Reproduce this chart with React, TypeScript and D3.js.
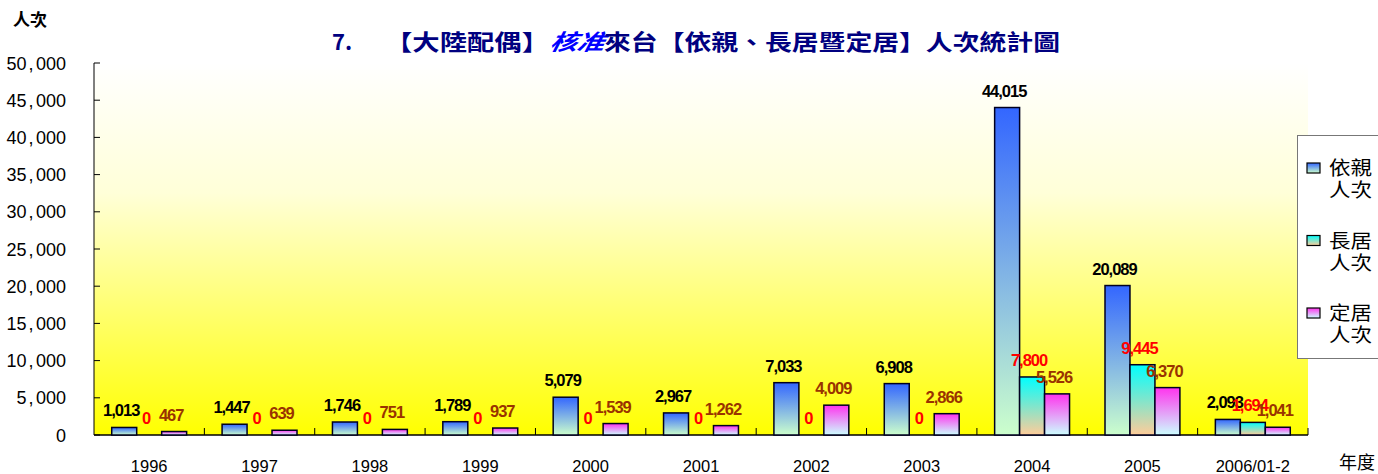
import React from "react";
import * as d3 from "d3";

const categories = ["1996", "1997", "1998", "1999", "2000", "2001", "2002", "2003", "2004", "2005", "2006/01-2"];
const seriesNames = ["依親人次", "長居人次", "定居人次"];
const yiqin = [1013, 1447, 1746, 1789, 5079, 2967, 7033, 6908, 44015, 20089, 2093];
const changju = [0, 0, 0, 0, 0, 0, 0, 0, 7800, 9445, 1694];
const dingju = [467, 639, 751, 937, 1539, 1262, 4009, 2866, 5526, 6370, 1041];
const yTicks = [0, 5000, 10000, 15000, 20000, 25000, 30000, 35000, 40000, 45000, 50000];
const legendLines = [["依親", "人次"], ["長居", "人次"], ["定居", "人次"]];

const seriesValues = [yiqin, changju, dingju];
const gradStops = [
  ["#3366ff", "#ccffcc"],
  ["#00ffff", "#ffcc99"],
  ["#ff33ee", "#ccffff"],
];
const labelColors = ["#000000", "#ff0000", "#993300"];

export default function App() {
  const W = 1378, H = 474;
  const left = 94, right = 1308, top = 63, bottom = 435;
  const x0 = d3.scaleBand<string>().domain(categories).range([left, right]).paddingInner(0).paddingOuter(0);
  const x1 = d3.scaleBand<string>().domain(seriesNames).range([0, x0.bandwidth()]).paddingInner(0).paddingOuter(0.71);
  const y = d3.scaleLinear().domain([0, 50000]).range([bottom, top]);
  const fmt = d3.format(",");
  const sans = "'Liberation Sans', Arial, sans-serif";
  const cjk = "'Noto Sans CJK TC', 'Noto Sans CJK SC', sans-serif";

  return (
    <svg width={W} height={H} style={{ position: "absolute", left: 0, top: 0, background: "#fff" }}>
      <defs>
        <linearGradient id="bg" x1="0" y1="0" x2="0" y2="1">
          <stop offset="0" stopColor="#ffffff" />
          <stop offset="0.35" stopColor="#ffffd8" />
          <stop offset="1" stopColor="#ffff00" />
        </linearGradient>
        {gradStops.map((g, i) => (
          <linearGradient key={i} id={`g${i}`} x1="0" y1="0" x2="0" y2="1">
            <stop offset="0" stopColor={g[0]} />
            <stop offset="1" stopColor={g[1]} />
          </linearGradient>
        ))}
      </defs>
      <rect x={left} y={top} width={right - left} height={bottom - top} fill="url(#bg)" />

      {/* title */}
      <text x={332} y={50} fontFamily={cjk} fontWeight="bold" fontSize={22} fill="#000080">7.</text>
      <text x={385} y={50} fontFamily={cjk} fontWeight="bold" fontSize={22} fill="#000080" textLength={164} lengthAdjust="spacingAndGlyphs">【大陸配偶】</text>
      <text x={549} y={50} fontFamily={cjk} fontWeight="bold" fontStyle="italic" fontSize={22} fill="#0000ff" textLength={54} lengthAdjust="spacingAndGlyphs" transform="skewX(-12)" style={{ transformOrigin: "549px 50px" }}>核准</text>
      <text x={604} y={50} fontFamily={cjk} fontWeight="bold" fontSize={22} fill="#000080" textLength={456} lengthAdjust="spacingAndGlyphs">來台【依親、長居暨定居】人次統計圖</text>

      {/* y unit */}
      <text x={13} y={26} fontFamily={cjk} fontWeight="bold" fontSize={17} fill="#000">人次</text>

      {/* y axis */}
      <line x1={left} x2={left} y1={top} y2={bottom} stroke="#000" strokeWidth={1} />
      {yTicks.map((t) => {
        const s = fmt(t);
        const parts = s.split(",");
        return (
          <g key={t}>
            <line x1={left} x2={left + 6} y1={y(t)} y2={y(t)} stroke="#000" />
            <text x={66} y={y(t) + 6.5} textAnchor="end" fontFamily={sans} fontSize={18} fill="#000">
              {parts.length > 1 ? (
                <>
                  <tspan>{parts[0]}</tspan>
                  <tspan dx={2}>,</tspan>
                  <tspan dx={2.5}>{parts[1]}</tspan>
                </>
              ) : s}
            </text>
          </g>
        );
      })}

      {/* x axis */}
      <line x1={left} x2={right} y1={bottom} y2={bottom} stroke="#000" strokeWidth={1.5} />
      {categories.map((c) => (
        <line key={c} x1={x0(c)! + x0.bandwidth()} x2={x0(c)! + x0.bandwidth()} y1={bottom} y2={bottom - 7} stroke="#000" />
      ))}
      {categories.map((c) => (
        <text key={c} x={x0(c)! + x0.bandwidth() / 2} y={472} textAnchor="middle" fontFamily={sans} fontSize={16.5} fill="#000">{c}</text>
      ))}
      <text x={1339} y={469} fontFamily={cjk} fontSize={18} fill="#000">年度</text>

      {/* bars */}
      {seriesValues.map((vals, si) => (
        <g key={si}>
          {vals.map((v, ci) => {
            const cx = x0(categories[ci])! + x1(seriesNames[si])!;
            const h = bottom - y(v);
            return v > 0 ? (
              <rect key={ci} x={cx} y={y(v)} width={x1.bandwidth()} height={h} fill={`url(#g${si})`} stroke="#000020" strokeWidth={1.5} />
            ) : null;
          })}
        </g>
      ))}
      {/* labels */}
      {seriesValues.map((vals, si) => (
        <g key={si}>
          {vals.map((v, ci) => {
            const cx = x0(categories[ci])! + x1(seriesNames[si])! + x1.bandwidth() / 2 - 3;
            return (
              <text key={ci} x={cx} y={y(v) - 11} textAnchor="middle" fontFamily={sans} fontWeight="bold" fontSize={16.5} letterSpacing={-1} fill={labelColors[si]}>{fmt(v)}</text>
            );
          })}
        </g>
      ))}

      {/* legend */}
      <rect x={1297.5} y={135.5} width={90} height={223} fill="#fff" stroke="#777" strokeWidth={1} />
      {legendLines.map((ln, i) => {
        const by = 168 + i * 72.5;
        return (
          <g key={i}>
            <rect x={1307} y={by - 5} width={13} height={10} fill={`url(#g${i})`} stroke="#000" strokeWidth={1.2} />
            <text x={1329} y={by + 7} fontFamily={cjk} fontSize={19} fill="#000" textLength={43} lengthAdjust="spacingAndGlyphs">{ln[0]}</text>
            <text x={1329} y={by + 29} fontFamily={cjk} fontSize={19} fill="#000" textLength={43} lengthAdjust="spacingAndGlyphs">{ln[1]}</text>
          </g>
        );
      })}
    </svg>
  );
}
